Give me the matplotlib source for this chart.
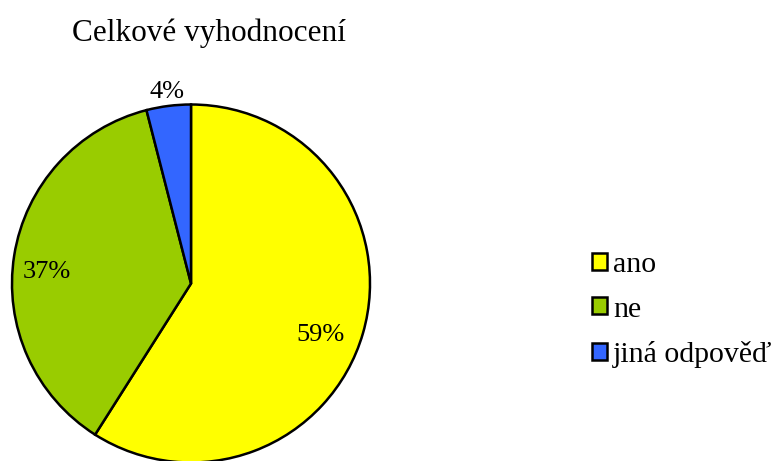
import matplotlib
matplotlib.use("Agg")
import matplotlib.pyplot as plt
from matplotlib.patches import Patch
import numpy as np

title = "Celkové vyhodnocení"
categories = ["ano", "ne", "jiná odpověď"]
values = [59, 37, 4]
colors = ["#FFFF00", "#99CC00", "#3366FF"]

plt.rcParams['font.family'] = ['Liberation Serif', 'DejaVu Serif']

W, H = 774, 461
fig = plt.figure(figsize=(W / 100, H / 100), dpi=100)
cx, cy, r = 191, 283.5, 179
ax = fig.add_axes([(cx - r) / W, (H - cy - r) / H, 2 * r / W, 2 * r / H])
wedges, _ = ax.pie(values, colors=colors, startangle=90, counterclock=False,
                   wedgeprops=dict(edgecolor="black", linewidth=1.8), radius=1.0)
ax.set_xlim(-1, 1)
ax.set_ylim(-1, 1)
ax.set_aspect('equal')
ax.axis('off')
for w in wedges:
    w.set_clip_on(False)

# percentage labels
label_r = [0.78, 0.81, 1.08]
label_shift = [-5.5, 4.5, 0]
for w, v, lr, sh in zip(wedges, values, label_r, label_shift):
    ang = np.deg2rad((w.theta1 + w.theta2) / 2 + sh)
    ax.text(lr * np.cos(ang), lr * np.sin(ang), f"{v}%", ha='center', va='center',
            fontsize=19, clip_on=False)

fig.text(209 / W, 1 - 33 / H, title, ha='center', va='center', fontsize=22.5)

handles = [Patch(facecolor=c, edgecolor='black', linewidth=1.8) for c in colors]
leg = fig.legend(handles, categories, loc='upper left',
                 bbox_to_anchor=(592 / W, 1 - 252 / H), frameon=False,
                 fontsize=21.5, handlelength=0.5, handleheight=0.5,
                 handletextpad=0.2, labelspacing=0.62, borderpad=0, borderaxespad=0)

fig.savefig("out.png", dpi=100)
